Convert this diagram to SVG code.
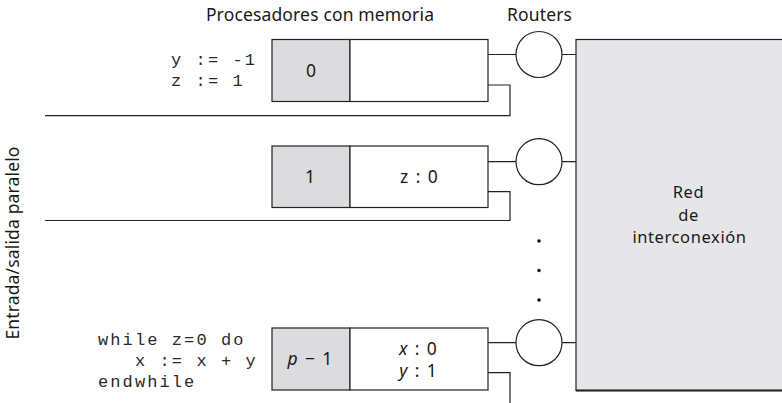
<svg xmlns="http://www.w3.org/2000/svg" width="782" height="403" viewBox="0 0 782 403">
<style>
.ln{fill:none;stroke:#222;stroke-width:1.2}
.cell{fill:#fff;stroke:#222;stroke-width:1.2}
.pid{fill:#dcdcde;stroke:#222;stroke-width:1.2}
.rt{fill:#fff;stroke:#222;stroke-width:1.2}
.t{font-family:"Noto Sans","Open Sans",sans-serif;font-size:17.5px;letter-spacing:0.15px;fill:#1a1a1a;text-anchor:middle}
.w{word-spacing:2.5px}
.n{font-size:16.5px;letter-spacing:0.6px}
.c{font-family:"Liberation Mono","Courier New",monospace;font-size:17px;letter-spacing:2.1px;fill:#2a2a2a;white-space:pre}
.i{font-style:italic}
</style>
<rect width="782" height="403" fill="#fff"/>
<text class="t" x="320" y="21">Procesadores con memoria</text>
<text class="t" x="539.5" y="21">Routers</text>
<text class="t" transform="translate(19,243) rotate(-90)">Entrada/salida paralelo</text>

<g id="network">
<rect x="576" y="39.5" width="300" height="351" fill="#e6e6e8" stroke="#222" stroke-width="1.2"/>
<line x1="576" y1="390.5" x2="782" y2="390.5" stroke="#222" stroke-width="2.2"/>
<text class="t n" x="688.5" y="198">Red</text>
<text class="t n" x="688.5" y="220.5">de</text>
<text class="t n" x="689.5" y="243">interconexión</text>
</g>

<g id="connectors">
<path class="ln" d="M488,54.5 H516 M562,54.5 H576"/>
<path class="ln" d="M488,85 H510 V115.7 H45"/>
<path class="ln" d="M488,161.7 H516 M562,161.7 H576"/>
<path class="ln" d="M488,191.7 H510 V220.5 H45"/>
<path class="ln" d="M488,342.7 H516 M562,342.7 H576"/>
<path class="ln" d="M488,372.7 H510 V403"/>
</g>

<g id="proc0">
<text class="c" x="171" y="65">y := -1</text>
<text class="c" x="171" y="86">z := 1</text>
<rect class="pid" x="272" y="39.5" width="78" height="62"/>
<rect class="cell" x="350" y="39.5" width="138" height="62"/>
<text class="t" x="311" y="77">0</text>
</g>
<g id="router0"><circle class="rt" cx="539" cy="54.5" r="23"/></g>

<g id="proc1">
<rect class="pid" x="272" y="146" width="78" height="61.5"/>
<rect class="cell" x="350" y="146" width="138" height="61.5"/>
<text class="t" x="310" y="183">1</text>
<text class="t w" x="419" y="183">z : 0</text>
</g>
<g id="router1"><circle class="rt" cx="539" cy="161.7" r="23"/></g>

<g id="dots" fill="#111">
<circle cx="539" cy="241" r="1.8"/>
<circle cx="539" cy="270.5" r="1.8"/>
<circle cx="539" cy="300" r="1.8"/>
</g>

<g id="procp">
<text class="c" x="98" y="345">while z=0 do</text>
<text class="c" x="98" y="366">   x := x + y</text>
<text class="c" x="98" y="387">endwhile</text>
<rect class="pid" x="272" y="328" width="78" height="62"/>
<rect class="cell" x="350" y="328" width="138" height="62"/>
<text class="t w" x="310" y="365"><tspan class="i">p</tspan> − 1</text>
<text class="t w" x="418" y="355"><tspan class="i">x</tspan> : 0</text>
<text class="t w" x="418" y="377"><tspan class="i">y</tspan> : 1</text>
</g>
<g id="routerp"><circle class="rt" cx="539" cy="342.7" r="23"/></g>
</svg>
